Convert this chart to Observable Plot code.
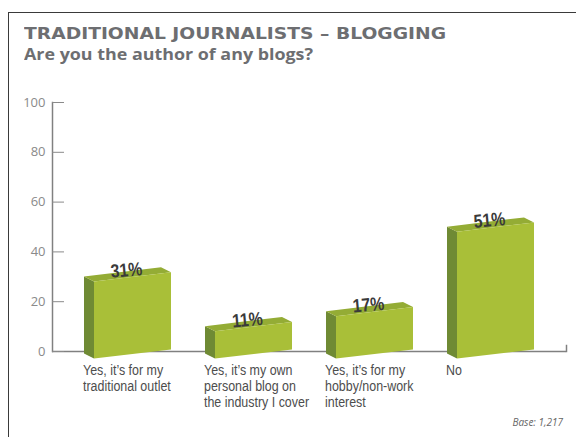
<!DOCTYPE html>
<html><head><meta charset="utf-8">
<script src="https://cdn.jsdelivr.net/npm/d3@7"></script>
<script src="https://cdn.jsdelivr.net/npm/@observablehq/plot@0.6"></script>
<style>
html,body{margin:0;padding:0;background:#fff;}
#wrap{position:relative;width:576px;height:437px;overflow:hidden;background:#fff;}
#frame{position:absolute;left:8px;top:12px;width:580px;height:440px;border-left:1px solid #3a3a3a;border-top:1px solid #3a3a3a;box-sizing:border-box;}
#title{position:absolute;left:24px;top:26px;font-family:"DejaVu Sans";font-weight:bold;font-size:15.5px;line-height:16px;color:#6d6e71;white-space:nowrap;transform-origin:0 0;}
#subtitle{position:absolute;left:24px;top:46px;font-family:"Open Sans";font-weight:700;font-size:15.5px;line-height:17px;color:#6d6e71;white-space:nowrap;transform-origin:0 0;}
#base{position:absolute;right:13px;top:416px;font-family:"Open Sans";font-style:italic;font-size:10px;line-height:12px;color:#666;white-space:nowrap;}
#chart{position:absolute;left:0;top:80px;}
</style>
</head><body>
<div id="wrap">
  <div id="frame"></div>
  <div id="title">TRADITIONAL JOURNALISTS – BLOGGING</div>
  <div id="subtitle">Are you the author of any blogs?</div>
  <div id="chart"></div>
  <div id="base">Base: 1,217</div>
</div>
<script>
const categories = [
  "Yes, it’s for my\ntraditional outlet",
  "Yes, it’s my own\npersonal blog on\nthe industry I cover",
  "Yes, it’s for my\nhobby/non-work\ninterest",
  "No"
];
const values = [31, 11, 17, 51];
const yTicks = [0, 20, 40, 60, 80, 100];

const data = categories.map((c, i) => ({category: c, value: values[i]}));

const frontColor = "#a9bf38", sideColor = "#6f8a34", topColor = "#94ac35";

// fit the heading widths to the reference's wide typeface
function fit(id, w) {
  const el = document.getElementById(id);
  const k = w / el.getBoundingClientRect().width;
  el.style.transform = `scaleX(${k})`;
}
fit("title", 422);
fit("subtitle", 289);

const chart = Plot.plot({
  width: 576, height: 357,
  marginLeft: 52, marginRight: 10, marginTop: 22, marginBottom: 86,
  x: {domain: categories, paddingInner: 0.285, paddingOuter: 0.254, label: null},
  y: {domain: [0, 100], label: null},
  style: {fontFamily: "'Liberation Sans', sans-serif", background: "transparent", overflow: "visible"},
  marks: [
    Plot.frame({anchor: "left", stroke: "#808080", strokeWidth: 1.5}),
    Plot.frame({anchor: "right", insetTop: 243, stroke: "#808080", strokeWidth: 1.5}),
    Plot.ruleY([0], {stroke: "#808080", strokeWidth: 1.5}),
    Plot.axisY({ticks: yTicks, tickSize: -12, tickPadding: 19, fontSize: 13, fontFamily: "Open Sans", color: "#8a8a8a", label: null}),
    Plot.axisX({tickSize: 0, tickPadding: 12, textAnchor: "start", dx: -45, fontSize: 15, lineHeight: 1.07, color: "#4d4d4d", label: null}),
    Plot.barY(data, {x: "category", y: "value", fill: frontColor, insetLeft: 10}),
    Plot.text(data, {x: "category", y: "value", text: d => d.value + "%", dx: -1, dy: 2, lineAnchor: "bottom", rotate: -5, fontSize: 19, fontWeight: "bold", fill: "#3a3a3a"})
  ]
});
document.getElementById("chart").appendChild(chart);

// narrow typeface look for the category and value labels
d3.select(chart).selectAll('g[aria-label="x-axis tick label"] text, g[aria-label="text"] text').each(function() {
  const t = this.getAttribute("transform") || "";
  this.setAttribute("transform", t + " scale(0.83,1)");
});

// 3D look: skew front faces and add side/top faces derived from each bar's geometry
const slope = -0.12, depthX = -10, depthY = -5, shift = 3;
const deg = Math.atan(slope) * 180 / Math.PI;
d3.select(chart).selectAll('g[aria-label="bar"] rect').each(function() {
  const r = d3.select(this);
  const L = +r.attr("x"), W = +r.attr("width"), T = +r.attr("y"), H = +r.attr("height");
  const R = L + W, cx = L + W / 2;
  const tl = [L, T - slope * W / 2 + shift], tr = [R, T + slope * W / 2 + shift];
  const bl = [L, T + H - slope * W / 2 + shift];
  const pts = a => a.map(p => p.join(",")).join(" ");
  const mk = (points, fill) => {
    const p = document.createElementNS("http://www.w3.org/2000/svg", "polygon");
    p.setAttribute("points", pts(points));
    p.setAttribute("fill", fill);
    this.parentNode.insertBefore(p, this);
  };
  mk([tl, bl, [bl[0] + depthX, bl[1] + depthY], [tl[0] + depthX, tl[1] + depthY]], sideColor);
  mk([tl, tr, [tr[0] + depthX, tr[1] + depthY], [tl[0] + depthX, tl[1] + depthY]], topColor);
  r.attr("transform", `translate(0,${shift}) translate(${cx},0) skewY(${deg}) translate(${-cx},0)`);
});
</script>
</body></html>
